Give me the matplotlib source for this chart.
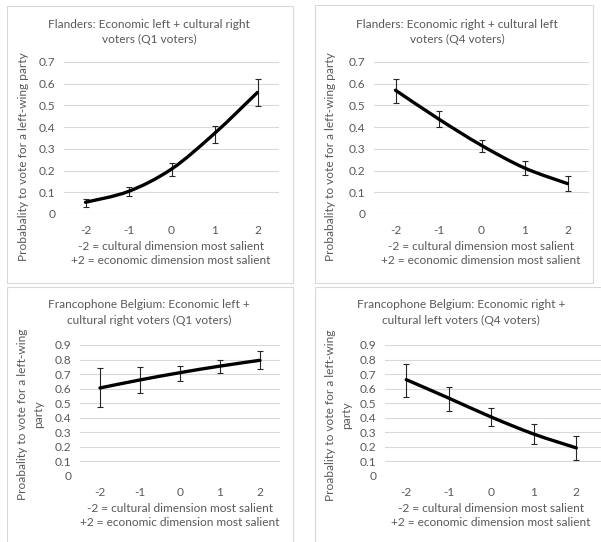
import numpy as np
import matplotlib
matplotlib.use('Agg')
import matplotlib.pyplot as plt
from matplotlib.path import Path
from matplotlib.patches import PathPatch, Rectangle

# x categories
x_cat = [-2, -1, 0, 1, 2]
x_labels = ['-2', '-1', '0', '1', '2']

# Flanders Q1 (econ left + cultural right)
fl_q1 = [0.054, 0.104, 0.207, 0.371, 0.560]
fl_q1_lo = [0.034, 0.083, 0.174, 0.325, 0.497]
fl_q1_hi = [0.068, 0.123, 0.234, 0.403, 0.622]
# Flanders Q4 (econ right + cultural left)
fl_q4 = [0.570, 0.438, 0.316, 0.212, 0.140]
fl_q4_lo = [0.512, 0.400, 0.284, 0.181, 0.104]
fl_q4_hi = [0.622, 0.473, 0.343, 0.244, 0.177]
# Francophone Q1
fr_q1 = [0.605, 0.660, 0.710, 0.755, 0.795]
fr_q1_lo = [0.474, 0.572, 0.656, 0.706, 0.734]
fr_q1_hi = [0.740, 0.746, 0.758, 0.797, 0.856]
# Francophone Q4
fr_q4 = [0.662, 0.535, 0.405, 0.288, 0.193]
fr_q4_lo = [0.545, 0.444, 0.343, 0.217, 0.110]
fr_q4_hi = [0.769, 0.613, 0.467, 0.355, 0.277]

W, H = 601, 542
GREY = '#595959'
FONT = 'Lato'
FS = 8.6

plt.rcParams['font.family'] = FONT

fig = plt.figure(figsize=(W / 100, H / 100), dpi=100)


def px_rect(x0, y0, x1, y1):
    return [x0 / W, 1 - y1 / H, (x1 - x0) / W, (y1 - y0) / H]


def ftext(x, y, s, **kw):
    fig.text(x / W, 1 - y / H, s, ha='center', va='center', color=GREY,
             fontsize=FS, **kw)


def smooth_path(x, y):
    # Excel-style smoothed line: cubic bezier through the points
    x = np.asarray(x, float)
    y = np.asarray(y, float)
    n = len(x)
    verts = [(x[0], y[0])]
    codes = [Path.MOVETO]
    for i in range(n - 1):
        p0 = np.array([x[max(i - 1, 0)], y[max(i - 1, 0)]])
        p1 = np.array([x[i], y[i]])
        p2 = np.array([x[i + 1], y[i + 1]])
        p3 = np.array([x[min(i + 2, n - 1)], y[min(i + 2, n - 1)]])
        c1 = p1 + (p2 - p0) / 6
        c2 = p2 - (p3 - p1) / 6
        verts += [tuple(c1), tuple(c2), tuple(p2)]
        codes += [Path.CURVE4] * 3
    return Path(verts, codes)


def panel(rect, vals, lo, hi, ymax, xlim=(-2.5, 2.5)):
    ax = fig.add_axes(px_rect(*rect))
    vals = np.array(vals)
    yerr = [vals - np.array(lo), np.array(hi) - vals]
    ax.errorbar(x_cat, vals, yerr=yerr, fmt='none', ecolor='#262626',
                elinewidth=0.8, capsize=2.4, capthick=0.8, zorder=3)
    ax.add_patch(PathPatch(smooth_path(x_cat, vals), facecolor='none',
                           edgecolor='black', lw=2.4, zorder=4,
                           capstyle='round'))
    ax.set_xlim(*xlim)
    ax.set_ylim(0, ymax)
    ax.set_yticks(np.round(np.arange(0, ymax + 0.01, 0.1), 1))
    ax.set_yticklabels(['0'] + ['%.1f' % v for v in np.arange(0.1, ymax + 0.01, 0.1)])
    ax.set_xticks(x_cat)
    ax.set_xticklabels(x_labels)
    ax.grid(axis='y', color='#d9d9d9', lw=0.8)
    ax.set_axisbelow(True)
    for s in ax.spines.values():
        s.set_visible(False)
    ax.tick_params(length=0, colors=GREY, labelsize=FS)
    ax.tick_params(axis='y', pad=6)
    ax.tick_params(axis='x', pad=8)
    return ax


# panel frames
for r in [(7, 6, 293, 283), (315, 5, 593, 283), (7, 287, 293, 560), (315, 287, 620, 560)]:
    fig.add_artist(Rectangle((r[0] / W, 1 - r[3] / H), (r[2] - r[0]) / W,
                             (r[3] - r[1]) / H, transform=fig.transFigure,
                             fill=False, edgecolor='#d9d9d9', lw=0.8))

panel((64, 62, 279, 214), fl_q1, fl_q1_lo, fl_q1_hi, 0.7)
panel((374, 62, 589, 214), fl_q4, fl_q4_lo, fl_q4_hi, 0.7)
panel((80, 345, 280, 476), fr_q1, fr_q1_lo, fr_q1_hi, 0.9)
panel((385, 345, 601, 476), fr_q4, fr_q4_lo, fr_q4_hi, 0.9, xlim=(-2.5, 2.58))

# titles
ftext(149, 24, 'Flanders: Economic left + cultural right')
ftext(149, 39, 'voters (Q1 voters)')
ftext(457, 24, 'Flanders: Economic right + cultural left')
ftext(457, 39, 'voters (Q4 voters)')
ftext(149, 305, 'Francophone Belgium: Economic left +')
ftext(149, 320, 'cultural right voters (Q1 voters)')
ftext(461, 305, 'Francophone Belgium: Economic right +')
ftext(461, 320, 'cultural left voters (Q4 voters)')

# y axis titles
ftext(24, 157, 'Probabality to vote for a left-wing party', rotation=90)
ftext(331, 157, 'Probabality to vote for a left-wing party', rotation=90)
ftext(23, 414, 'Proabality to vote for a left-wing', rotation=90)
ftext(39, 414, 'party', rotation=90)
ftext(330, 415, 'Proabality to vote for a left-wing', rotation=90)
ftext(347, 415, 'party', rotation=90)

# x axis titles
xl1 = '-2 = cultural dimension most salient'
xl2 = '+2 = economic dimension most salient'
ftext(171, 247, xl1)
ftext(171, 261, xl2)
ftext(481, 247, xl1)
ftext(481, 261, xl2)
ftext(180, 509, xl1)
ftext(180, 522, xl2)
ftext(491, 509, xl1)
ftext(491, 522, xl2)

fig.savefig('out.png', dpi=100)
